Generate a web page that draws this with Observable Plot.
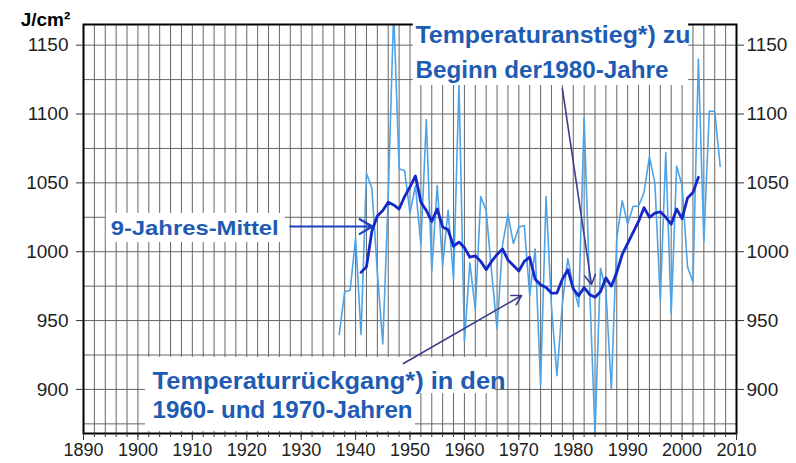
<!DOCTYPE html>
<html>
<head>
<meta charset="utf-8">
<script src="https://cdn.jsdelivr.net/npm/d3@7"></script>
<script src="https://cdn.jsdelivr.net/npm/@observablehq/plot@0.6"></script>
<style>
  html, body { margin: 0; padding: 0; background: #fff; }
  #chart { width: 796px; height: 463px; }
</style>
</head>
<body>
<div id="chart"></div>
<script>
// Annual values (J/cm²)
const annualYears = [1937,1938,1939,1940,1941,1942,1943,1944,1945,1946,1947,1948,1949,1950,1951,1952,1953,1954,1955,1956,1957,1958,1959,1960,1961,1962,1963,1964,1965,1966,1967,1968,1969,1970,1971,1972,1973,1974,1975,1976,1977,1978,1979,1980,1981,1982,1983,1984,1985,1986,1987,1988,1989,1990,1991,1992,1993,1994,1995,1996,1997,1998,1999,2000,2001,2002,2003,2004,2005,2006,2007];
const annualValues = [940,971,972,1010,940,1057,1046,985,933,1040,1175,1060,1059,1028,1048,1005,1096,986,1048,990,1030,980,1122,935,992,958,1040,1030,985,944,1005,1027,1006,1018,1019,968,1002,903,1040,960,910,962,995,975,960,1097,975,868,988,972,900,1010,1037,1020,1033,1033,1043,1069,1050,965,1072,955,1062,1048,989,978,1140,1007,1102,1102,1062];

// 9-year running mean
const meanYears = [1941,1942,1943,1944,1945,1946,1947,1948,1949,1950,1951,1952,1953,1954,1955,1956,1957,1958,1959,1960,1961,1962,1963,1964,1965,1966,1967,1968,1969,1970,1971,1972,1973,1974,1975,1976,1977,1978,1979,1980,1981,1982,1983,1984,1985,1986,1987,1988,1989,1990,1991,1992,1993,1994,1995,1996,1997,1998,1999,2000,2001,2002,2003];
const meanValues = [985,989,1015,1026,1030,1036,1034,1031,1040,1047,1055,1036,1030,1022,1031,1018,1016,1004,1007,1003,996,997,993,987,993,998,1002,994,990,986,993,996,980,976,974,970,970,980,987,973,968,974,969,967,971,981,975,985,998,1006,1014,1022,1032,1025,1028,1029,1025,1020,1031,1024,1039,1043,1054];

// Axis ticks and grid
const yTicks = [900, 950, 1000, 1050, 1100, 1150];
const yGrid = [875, 900, 925, 950, 975, 1000, 1025, 1050, 1075, 1100, 1125, 1150];
const xTicks = [1890, 1900, 1910, 1920, 1930, 1940, 1950, 1960, 1970, 1980, 1990, 2000, 2010];
const xGrid = [1892,1894,1896,1898,1900,1902,1904,1906,1908,1910,1912,1914,1916,1918,1920,1922,1924,1926,1928,1930,1932,1934,1936,1938,1940,1942,1944,1946,1948,1950,1952,1954,1956,1958,1960,1962,1964,1966,1968,1970,1972,1974,1976,1978,1980,1982,1984,1986,1988,1990,1992,1994,1996,1998,2000,2002,2004,2006,2008];

// Annotation texts
const labelMean = "9-Jahres-Mittel";
const labelRise = ["Temperaturanstieg*) zu", "Beginn der1980-Jahre"];
const labelFall = ["Temperaturrückgang*) in den", "1960- und 1970-Jahren"];
const unitLabel = "J/cm²";

const annual = annualYears.map((year, i) => ({year, value: annualValues[i]}));
const mean9 = meanYears.map((year, i) => ({year, value: meanValues[i]}));

const textBlue = "#1e5cb3";
const arrowDark = "#3c3c8c";

const chart = Plot.plot({
  width: 796,
  height: 463,
  marginLeft: 83,
  marginRight: 60,
  marginTop: 24,
  marginBottom: 30,
  x: {domain: [1890, 2010]},
  y: {domain: [868, 1165]},
  style: {fontFamily: "'Liberation Sans', Arial, sans-serif", fontSize: "15px", color: "#222", background: "#fff", overflow: "visible"},
  marks: [
    Plot.ruleX(xGrid, {stroke: "#666", strokeWidth: 1, strokeOpacity: 1}),
    Plot.ruleY(yGrid, {stroke: "#666", strokeWidth: 1, strokeOpacity: 1}),
    Plot.line(annual, {x: "year", y: "value", stroke: "#4da3e8", strokeWidth: 1.6, clip: true}),
    Plot.line(mean9, {x: "year", y: "value", stroke: "#1428c8", strokeWidth: 2.8}),
    Plot.frame({stroke: "#000", strokeWidth: 2}),
    Plot.axisY({anchor: "left", ticks: yTicks, tickSize: 7, tickPadding: 8, tickFormat: d => String(d), label: null, fontSize: 19, stroke: "#333"}),
    Plot.axisY({anchor: "right", ticks: yTicks, tickSize: 7, tickPadding: 3, tickFormat: d => String(d), label: null, fontSize: 19, stroke: "#333"}),
    Plot.axisX({ticks: xTicks, tickSize: 7, tickPadding: 3, tickFormat: d => String(d), label: null, fontSize: 18, stroke: "#333"}),
    Plot.axisX({ticks: xGrid, tickSize: 4, tickFormat: () => "", label: null, stroke: "#333"}),
    // white boxes behind annotations
    Plot.rect([
      {x1: 1894.2, x2: 1927.1, y1: 1006.7, y2: 1027.8},
      {x1: 1950.6, x2: 2001.2, y1: 1120.7, y2: 1169},
      {x1: 1901.4, x2: 1965.7, y1: 897.0, y2: 923.2},
      {x1: 1901.4, x2: 1951.0, y1: 869.5, y2: 897.1}
    ], {x1: "x1", x2: "x2", y1: "y1", y2: "y2", fill: "#fff"}),
    Plot.text([labelMean], {x: () => 1895.0, y: () => 1016.9, text: d => d, textAnchor: "start", lineAnchor: "middle", fontWeight: "bold", fontSize: 21, fill: textBlue}),
    Plot.text(labelRise, {x: () => 1951.0, y: (d, i) => [1157.0, 1131.6][i], text: d => d, textAnchor: "start", lineAnchor: "middle", fontWeight: "bold", fontSize: 23, fill: textBlue}),
    Plot.text(labelFall, {x: () => 1902.7, y: (d, i) => [905.8, 884.7][i], text: d => d, textAnchor: "start", lineAnchor: "middle", fontWeight: "bold", fontSize: 24, fill: textBlue}),
    Plot.arrow([{x1: 1928.0, y1: 1018.3, x2: 1943.1, y2: 1018.3}], {x1: "x1", y1: "y1", x2: "x2", y2: "y2", stroke: "#1f3fc0", strokeWidth: 2.2, headLength: 10}),
    Plot.arrow([
      {x1: 1978.0, y1: 1118.5, x2: 1983.35, y2: 976.2},
      {x1: 1948.8, y1: 918.8, x2: 1970.5, y2: 968.2}
    ], {x1: "x1", y1: "y1", x2: "x2", y2: "y2", stroke: arrowDark, strokeWidth: 1.6, headLength: 10}),
    Plot.text([unitLabel], {frameAnchor: "top-left", text: d => d, dx: -38, dy: -5, textAnchor: "middle", lineAnchor: "middle", fontWeight: "bold", fontSize: 19, fill: "#000"})
  ]
});

// fit annotation texts to the widths measured on the reference
const fitWidths = {
  "9-Jahres-Mittel": 168,
  "Temperaturanstieg*) zu": 275,
  "Beginn der1980-Jahre": 253,
  "Temperaturrückgang*) in den": 353,
  "1960- und 1970-Jahren": 260
};
d3.select(chart).selectAll("text").each(function() {
  const w = fitWidths[this.textContent];
  if (w) {
    this.setAttribute("textLength", w);
    this.setAttribute("lengthAdjust", "spacingAndGlyphs");
  }
});
document.getElementById("chart").appendChild(chart);
</script>
</body>
</html>
